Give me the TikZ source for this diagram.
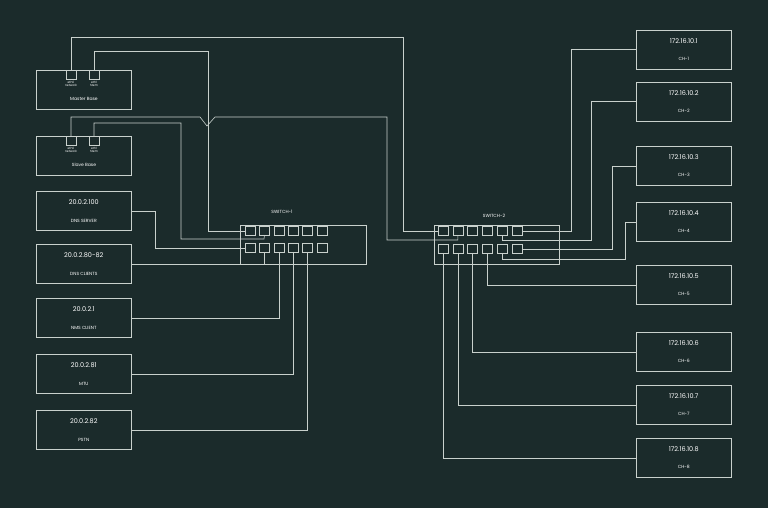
\documentclass[tikz,border=0pt]{standalone}
\usepackage{fontspec}
\setmainfont{Poppins}
\usepackage{xcolor}
\usetikzlibrary{positioning}
\definecolor{bg}{HTML}{1B2B2B}
\definecolor{wire}{HTML}{C9D1CD}
\tikzset{
  box/.style={draw=wire, anchor=north west, minimum width=95pt, minimum height=39pt, align=center, text=white, inner sep=0pt},
  port/.style={draw=wire, minimum width=10pt, minimum height=9pt, inner sep=0pt},
  tiny/.style={text=white, font=\fontsize{3}{3.5}\selectfont, align=center, inner sep=0pt},
}
\newcommand{\ipf}{\fontsize{6.5}{7}\selectfont}
\newcommand{\namef}{\fontsize{4.5}{5}\selectfont}
\begin{document}
\begin{tikzpicture}[x=1pt, y=-1pt, line width=0.6pt, wire]
		\fill[bg] (0,0) rectangle (768,508);
		\useasboundingbox (0,0) rectangle (768,508);
		
		% left boxes
		\node[box] (master) at (36,70) {};
		\node[box] (slave) at (36,136) {};
		\node[box] (dns) at (36,191) {\ipf 20.0.2.100\\[6pt]\namef DNS SERVER};
		\node[box] (dnsc) at (36,244) {\ipf 20.0.2.80-82\\[6pt]\namef DNS CLIENTS};
		\node[box] (nms) at (36,298) {\ipf 20.0.2.1\\[6pt]\namef NMS CLIENT};
		\node[box] (mtu) at (36,354) {\ipf 20.0.2.81\\[6pt]\namef MTU};
		\node[box] (pstn) at (36,410) {\ipf 20.0.2.82\\[6pt]\namef PSTN};
		
		\node[port] (me0) at (71,75) {};
		\node[port] (me1) at (94,75) {};
		\node[tiny, below=1pt of me0] {eth0\\network};
		\node[tiny, below=1pt of me1] {eth1\\Stem};
		\node[text=white, font=\namef] at (84,99) {Master Base};
		\node[port] (se0) at (71,141) {};
		\node[port] (se1) at (94,141) {};
		\node[tiny, below=1pt of se0] {eth0\\network};
		\node[tiny, below=1pt of se1] {eth1\\Stem};
		\node[text=white, font=\namef] at (84,165) {Slave Base};
		
		% right boxes
		\foreach \i/\y in {1/30,2/82,3/146,4/202,5/265,6/332,7/385,8/438}{
			\node[box] (ch\i) at (636,\y) {\ipf 172.16.10.\i\\[5pt]\namef CH-\i};
		}
		
		% switches
		\node[draw=wire, anchor=north west, minimum width=126pt, minimum height=39pt] (sw1) at (240,225) {};
		\node[draw=wire, anchor=north west, minimum width=125pt, minimum height=39pt] (sw2) at (434,225) {};
		\node[text=white, font=\namef] at (282,212) {SWITCH-1};
		\node[text=white, font=\namef] at (494,216) {SWITCH-2};
		\foreach \i in {1,...,6}{
			\node[port] (s1p\i) at ({250+14.4*(\i-1)},231) {};
			\node[port] (s1q\i) at ({250+14.4*(\i-1)},248) {};
			\node[port] (s2p\i) at ({443+14.8*(\i-1)},231) {};
			\node[port] (s2q\i) at ({443+14.8*(\i-1)},249) {};
		}
		
		% wires to switch-1
		\draw (me0.north) |- (403,37) |- (s2p1.west);
		\draw (me1.north) |- (208,51) |- (s1p1.west);
		\draw (se0.north) |- (200,117) -- (207,126) -- (215,117) -| (387,240) -| (s2p2.south);
		\draw (se1.north) |- (181,123) |- (264,239) -- (s1p2.south);
		\draw (dns.east) -| (155,248) -- (s1q1.west);
		\draw (dnsc.east) -| (s1q2.south);
		\draw (nms.east) -| (s1q3.south);
		\draw (mtu.east) -| (s1q4.south);
		\draw (pstn.east) -| (s1q5.south);
		
		% wires to switch-2
		\draw (ch1.west) -| (571,231) -- (s2p6.east);
		\draw (ch2.west) -| (591,240) -| (s2p5.south);
		\draw (ch3.west) -| (612,249) -- (s2q6.east);
		\draw (ch4.west) -| (625,259) -| (s2q5.south);
		\draw (ch5.west) -| (s2q4.south);
		\draw (ch6.west) -| (s2q3.south);
		\draw (ch7.west) -| (s2q2.south);
		\draw (ch8.west) -| (s2q1.south);
	\end{tikzpicture}
\end{document}
